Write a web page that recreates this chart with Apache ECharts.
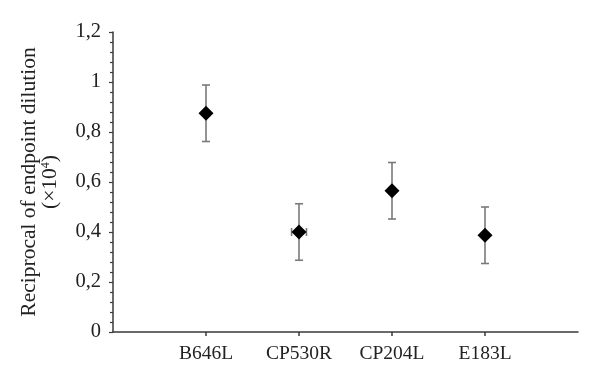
<!DOCTYPE html>
<html>
<head>
<meta charset="utf-8">
<script src="https://cdn.jsdelivr.net/npm/echarts@6/dist/echarts.min.js"></script>
<style>html,body{margin:0;padding:0;background:#fff;}#c{width:600px;height:382px;}</style>
</head>
<body>
<div id="c"></div>
<script>
var categories = ['B646L', 'CP530R', 'CP204L', 'E183L'];
var values = [0.875, 0.400, 0.565, 0.387];
var yErrors = [0.113, 0.113, 0.113, 0.113];
var xErrors = [0, 0.08, 0, 0];
var yTicks = [0, 0.2, 0.4, 0.6, 0.8, 1, 1.2];

var FONT = '"Liberation Serif", "Times New Roman", serif';
var chart = echarts.init(document.getElementById('c'), null, {renderer: 'canvas'});

var pts = values.map(function (v, i) { return [i + 1, v]; });
var errData = values.map(function (v, i) { return [i + 1, v, yErrors[i], xErrors[i]]; });

chart.setOption({
  animation: false,
  backgroundColor: '#fff',
  grid: {left: 113, right: 22, top: 32, bottom: 50},
  xAxis: {
    type: 'value', min: 0, max: 5, interval: 1,
    axisLine: {show: true, lineStyle: {color: '#3a3a3a', width: 1.5}},
    axisTick: {show: true, length: 4, lineStyle: {color: '#3a3a3a', width: 1.5}},
    splitLine: {show: false},
    axisLabel: {
      margin: 12, color: '#222', fontFamily: FONT, fontSize: 19.5,
      formatter: function (v) { return categories[v - 1] || ''; },
      showMinLabel: false, showMaxLabel: false
    }
  },
  yAxis: {
    type: 'value', min: 0, max: 1.2, interval: 0.2,
    name: '{a|Reciprocal of endpoint dilution}\n{a|(×10}{s|4}{a|)}',
    nameLocation: 'middle', nameRotate: 90, nameGap: 52,
    nameTextStyle: {
      color: '#222', fontFamily: FONT, fontSize: 21.5, lineHeight: 21,
      rich: {
        a: {fontFamily: FONT, fontSize: 21.5, color: '#222', lineHeight: 21},
        s: {fontFamily: FONT, fontSize: 12, color: '#222', verticalAlign: 'top', lineHeight: 21}
      }
    },
    axisLine: {show: true, lineStyle: {color: '#3a3a3a', width: 1.5}},
    axisTick: {show: true, length: 4, lineStyle: {color: '#3a3a3a', width: 1.2}},
    minorTick: {show: true, splitNumber: 5, length: 3, lineStyle: {color: '#3a3a3a', width: 1.2}},
    splitLine: {show: false},
    axisLabel: {
      margin: 12, color: '#222', fontFamily: FONT, fontSize: 20.5,
      formatter: function (v) {
        var s = yTicks.indexOf(Math.round(v * 10) / 10) >= 0 ? String(Math.round(v * 10) / 10) : String(v);
        return s.replace('.', ',');
      }
    }
  },
  series: [
    {
      type: 'custom',
      data: errData,
      z: 2,
      renderItem: function (params, api) {
        var x = api.value(0), y = api.value(1), ey = api.value(2), ex = api.value(3);
        var top = api.coord([x, y + ey]);
        var bot = api.coord([x, y - ey]);
        var cap = 4;
        var style = {stroke: '#7a7a7a', lineWidth: 1.6};
        var children = [
          {type: 'line', shape: {x1: top[0], y1: top[1], x2: bot[0], y2: bot[1]}, style: style},
          {type: 'line', shape: {x1: top[0] - cap, y1: top[1], x2: top[0] + cap, y2: top[1]}, style: style},
          {type: 'line', shape: {x1: bot[0] - cap, y1: bot[1], x2: bot[0] + cap, y2: bot[1]}, style: style}
        ];
        if (ex > 0) {
          var l = api.coord([x - ex, y]);
          var r = api.coord([x + ex, y]);
          children.push({type: 'line', shape: {x1: l[0], y1: l[1], x2: r[0], y2: r[1]}, style: style});
          children.push({type: 'line', shape: {x1: l[0], y1: l[1] - cap, x2: l[0], y2: l[1] + cap}, style: style});
          children.push({type: 'line', shape: {x1: r[0], y1: r[1] - cap, x2: r[0], y2: r[1] + cap}, style: style});
        }
        return {type: 'group', children: children};
      }
    },
    {
      type: 'scatter',
      data: pts,
      z: 3,
      symbol: 'diamond',
      symbolSize: [15, 15],
      itemStyle: {color: '#000', opacity: 1}
    }
  ]
});
</script>
</body>
</html>
